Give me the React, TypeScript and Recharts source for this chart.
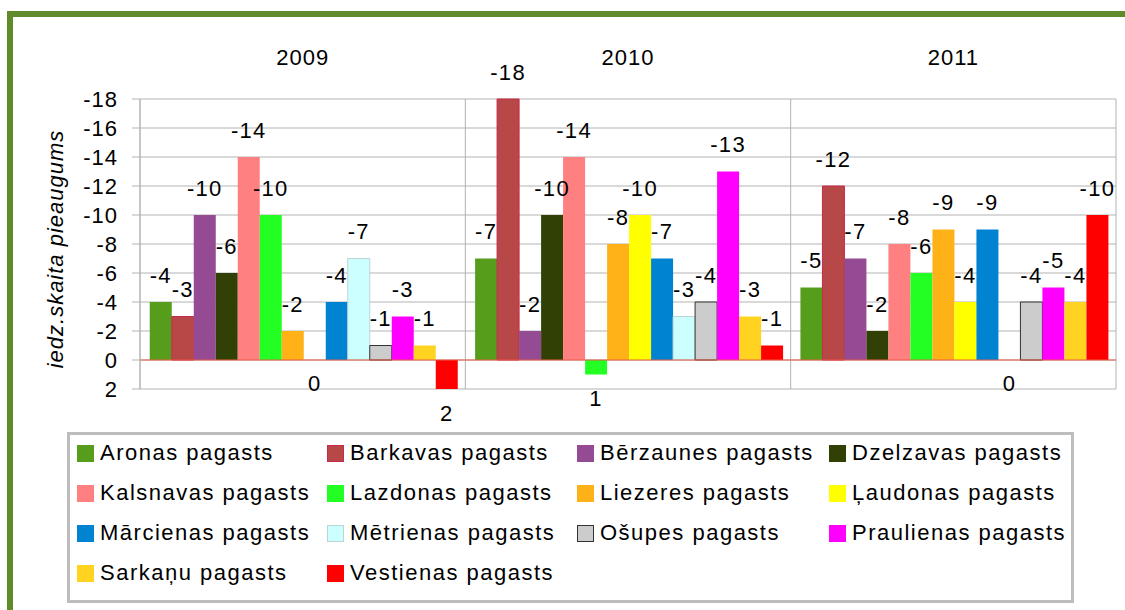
import React from 'react';
import { BarChart, Bar, XAxis, YAxis, CartesianGrid, Legend, LabelList, ReferenceLine, Label, Cell } from 'recharts';

const years = ['2009', '2010', '2011'];

const names = [
  'Aronas pagasts', 'Barkavas pagasts', 'Bērzaunes pagasts', 'Dzelzavas pagasts',
  'Kalsnavas pagasts', 'Lazdonas pagasts', 'Liezeres pagasts', 'Ļaudonas pagasts',
  'Mārcienas pagasts', 'Mētrienas pagasts', 'Ošupes pagasts', 'Praulienas pagasts',
  'Sarkaņu pagasts', 'Vestienas pagasts',
];

const aronas = [-4, -7, -5];
const barkavas = [-3, -18, -12];
const berzaunes = [-10, -2, -7];
const dzelzavas = [-6, -10, -2];
const kalsnavas = [-14, -14, -8];
const lazdonas = [-10, 1, -6];
const liezeres = [-2, -8, -9];
const laudonas = [0, -10, -4];
const marcienas = [-4, -7, -9];
const metrienas = [-7, -3, 0];
const osupes = [-1, -4, -4];
const praulienas = [-3, -13, -5];
const sarkanu = [-1, -3, -4];
const vestienas = [2, -1, -10];

const yTicks = [-18, -16, -14, -12, -10, -8, -6, -4, -2, 0, 2];

const seriesValues = [
  aronas, barkavas, berzaunes, dzelzavas, kalsnavas, lazdonas, liezeres,
  laudonas, marcienas, metrienas, osupes, praulienas, sarkanu, vestienas,
];

const fills = [
  '#579d1c', '#b84747', '#954a94', '#314004', '#ff8080', '#23ff23', '#ffb217',
  '#ffff00', '#0084d1', '#ccffff', '#cccccc', '#ff00ff', '#ffd320', '#ff0000',
];
const strokes: (string | undefined)[] = [
  undefined, '#c42a4a', undefined, undefined, undefined, undefined, undefined,
  undefined, undefined, '#bcd4d4', '#333333', undefined, undefined, undefined,
];

const data = years.map((year, i) => {
  const row: Record<string, string | number> = { year };
  seriesValues.forEach((vals, s) => { row['s' + s] = vals[i]; });
  return row;
});

const FONT = '"Liberation Sans", Arial, sans-serif';
const textStyle = { fontFamily: FONT, fontSize: 22, letterSpacing: 1 };

const renderLabel = (props: any) => {
  const { x, y, width, height, value } = props;
  const top = Math.min(y, y + height);
  const bottom = Math.max(y, y + height);
  const cy = value < 0 ? top - 27 : value === 0 ? bottom + 23 : bottom + 24;
  return (
    <text x={x + width / 2} y={cy} textAnchor="middle" dominantBaseline="central" fill="#000" style={{ ...textStyle, letterSpacing: 1.3 }}>
      {value}
    </text>
  );
};

const YearTick = (props: any) => {
  const { x, y, payload } = props;
  return (
    <text x={x} y={y - 42} textAnchor="middle" dominantBaseline="central" fill="#000" style={textStyle}>
      {payload.value}
    </text>
  );
};

const colLeft = [10, 260, 510, 762];

const LegendBox = () => (
  <div
    style={{
      position: 'relative', width: 1007, height: 171, boxSizing: 'border-box',
      border: '3px solid #bdbdbd', background: '#fff',
    }}
  >
    {names.map((name, i) => {
      const row = Math.floor(i / 4);
      const col = i % 4;
      return (
        <div
          key={name}
          style={{
            position: 'absolute', left: colLeft[col] - 3, top: 21 + row * 40 - 3 - 10,
            height: 20, display: 'flex', alignItems: 'center', whiteSpace: 'nowrap',
          }}
        >
          <span
            style={{
              display: 'inline-block', width: 17, height: 17, boxSizing: 'border-box',
              background: fills[i], border: strokes[i] ? `1px solid ${strokes[i]}` : 'none', marginRight: 6,
            }}
          />
          <span style={{ ...textStyle, letterSpacing: 1.5, color: '#000', lineHeight: '20px' }}>{name}</span>
        </div>
      );
    })}
  </div>
);

export default function App() {
  return (
    <div style={{ position: 'absolute', left: 0, top: 0, width: 1125, height: 610, background: '#fff', overflow: 'hidden' }}>
      <div
        style={{
          position: 'absolute', left: 7, top: 11, right: 0, bottom: 0,
          borderTop: '6px solid #5f8b2b', borderLeft: '6px solid #5f8b2b',
        }}
      />
      <div style={{ position: 'absolute', left: 0, top: 0 }}>
        <BarChart
          width={1125}
          height={610}
          data={data}
          margin={{ top: 30, right: 9, bottom: 221, left: 0 }}
          barCategoryGap="3%"
          barGap={0}
        >
          <CartesianGrid
            stroke="#b3b3b3"
            verticalCoordinatesGenerator={({ offset }: any) =>
              [0, 1, 2, 3].map((k) => offset.left + (offset.width * k) / 3)
            }
          />
          <XAxis
            dataKey="year"
            orientation="top"
            height={69}
            axisLine={false}
            tickLine={false}
            tickSize={0}
            tickMargin={0}
            tick={<YearTick />}
          />
          <YAxis
            type="number"
            domain={[-18, 2]}
            ticks={yTicks}
            reversed
            width={140}
            interval={0}
            axisLine={{ stroke: '#b3b3b3' }}
            tickLine={{ stroke: '#b3b3b3' }}
            tickSize={8}
            tickMargin={14}
            tick={{ fill: '#000', fontFamily: FONT, fontSize: 22, letterSpacing: 1 }}
          >
            <Label
              content={(p: any) => {
                const vb = p.viewBox;
                const cy = vb.y + vb.height / 2 + 5;
                return (
                  <text
                    x={55}
                    y={cy}
                    transform={`rotate(-90, 55, ${cy})`}
                    textAnchor="middle"
                    dominantBaseline="central"
                    fill="#000"
                    style={{ ...textStyle, fontStyle: 'italic' }}
                  >
                    iedz.skaita pieaugums
                  </text>
                );
              }}
            />
          </YAxis>
          <Legend
            layout="vertical"
            align="center"
            verticalAlign="middle"
            wrapperStyle={{ left: 67, top: 432, width: 1007, height: 171 }}
            content={<LegendBox />}
          />
          {names.map((name, s) => (
            <Bar
              key={name}
              dataKey={'s' + s}
              name={name}
              fill={fills[s]}
              stroke={strokes[s]}
              strokeWidth={strokes[s] ? 1 : 0}
              minPointSize={1}
              isAnimationActive={false}
            >
              {seriesValues[s].map((v, i) => (
                <Cell key={i} fill={v === 0 ? 'none' : fills[s]} stroke={v === 0 ? 'none' : strokes[s]} />
              ))}
              <LabelList dataKey={'s' + s} content={renderLabel} />
            </Bar>
          ))}
          <ReferenceLine y={0} stroke="#ec5a43" strokeWidth={1} />
        </BarChart>
      </div>
    </div>
  );
}
